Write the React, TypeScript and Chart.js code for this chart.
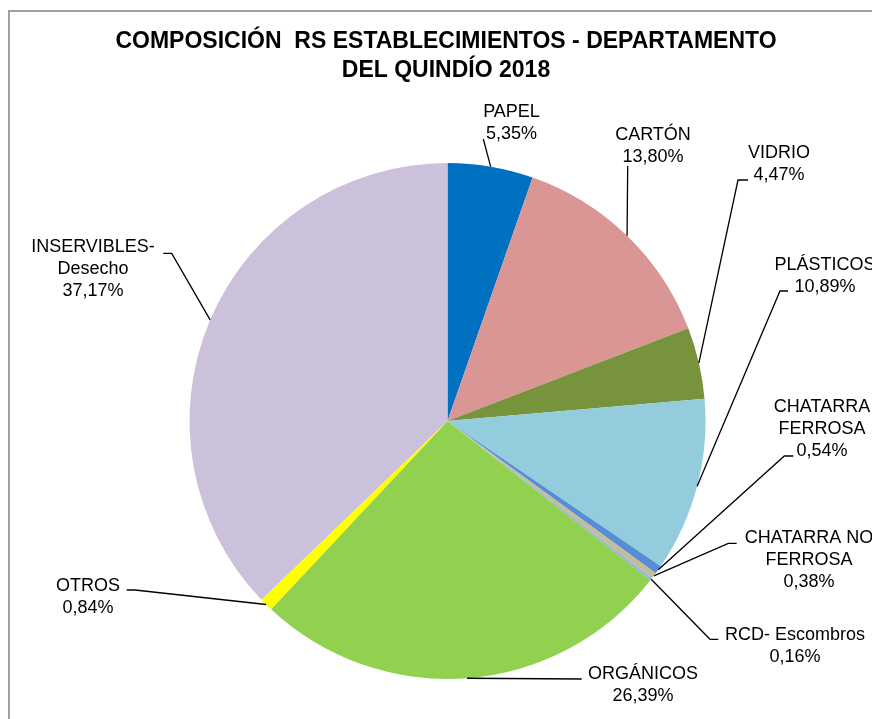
import React, { useEffect, useRef } from "react";
import { Chart, registerables } from "chart.js";

Chart.register(...registerables);

const titleLines = ["COMPOSICIÓN  RS ESTABLECIMIENTOS - DEPARTAMENTO", "DEL QUINDÍO 2018"];

const categories = [
  "PAPEL",
  "CARTÓN",
  "VIDRIO",
  "PLÁSTICOS",
  "CHATARRA FERROSA",
  "CHATARRA NO FERROSA",
  "RCD- Escombros",
  "ORGÁNICOS",
  "OTROS",
  "INSERVIBLES- Desecho",
];

const values = [5.35, 13.8, 4.47, 10.89, 0.54, 0.38, 0.16, 26.39, 0.84, 37.17];

const labelLines = [
  ["PAPEL"],
  ["CARTÓN"],
  ["VIDRIO"],
  ["PLÁSTICOS"],
  ["CHATARRA", "FERROSA"],
  ["CHATARRA NO", "FERROSA"],
  ["RCD- Escombros"],
  ["ORGÁNICOS"],
  ["OTROS"],
  ["INSERVIBLES-", "Desecho"],
];

const colors = [
  "#0070C0",
  "#D99694",
  "#77933C",
  "#93CDDD",
  "#558ED5",
  "#C4BD97",
  "#8EB4E3",
  "#92D050",
  "#FFFF00",
  "#CCC1DA",
];

// label layout: text centre x, first baseline y, elbow point, tail end x (null = none)
const labelLayout = [
  { x: 511.5, y: 117, ex: 483.3, ey: 139, tx: null },
  { x: 653, y: 140, ex: 627.7, ey: 166, tx: null },
  { x: 779, y: 158, ex: 738, ey: 180, tx: 748 },
  { x: 825, y: 270, ex: 780, ey: 291, tx: 788 },
  { x: 822, y: 411.7, ex: 784.3, ey: 456, tx: 793.3 },
  { x: 809, y: 543, ex: 728.3, ey: 543.3, tx: 736.7 },
  { x: 795, y: 640, ex: 710, ey: 639.3, tx: 718.3 },
  { x: 643, y: 679.3, ex: 581.7, ey: 679, tx: null },
  { x: 88, y: 591, ex: 135, ey: 590, tx: 126.7 },
  { x: 93, y: 252.3, ex: 171.7, ey: 253.3, tx: 163.3 },
];

const FONT = '"Liberation Sans", Arial, sans-serif';

const fmt = (v: number) => v.toFixed(2).replace(".", ",") + "%";

const decorPlugin = {
  id: "decor",
  afterDraw(chart: any) {
    const ctx = chart.ctx;
    ctx.save();
    // frame
    ctx.strokeStyle = "#A0A0A0";
    ctx.lineWidth = 2;
    ctx.beginPath();
    ctx.moveTo(9, 730);
    ctx.lineTo(9, 11);
    ctx.lineTo(880, 11);
    ctx.stroke();

    // title
    ctx.fillStyle = "#000";
    ctx.textAlign = "center";
    ctx.textBaseline = "alphabetic";
    ctx.font = `bold 23px ${FONT}`;
    ctx.fillText(titleLines[0], 446, 48);
    ctx.fillText(titleLines[1], 446, 77);

    // labels + leaders
    const meta = chart.getDatasetMeta(0);
    ctx.font = `18px ${FONT}`;
    ctx.strokeStyle = "#000";
    ctx.lineWidth = 1.3;
    meta.data.forEach((arc: any, i: number) => {
      const p = arc.getProps(["x", "y", "startAngle", "endAngle", "outerRadius"], true);
      const mid = (p.startAngle + p.endAngle) / 2;
      const ax = p.x + Math.cos(mid) * p.outerRadius;
      const ay = p.y + Math.sin(mid) * p.outerRadius;
      const L = labelLayout[i];
      ctx.beginPath();
      ctx.moveTo(ax, ay);
      ctx.lineTo(L.ex, L.ey);
      if (L.tx !== null) ctx.lineTo(L.tx, L.ey);
      ctx.stroke();
      const lines = [...labelLines[i], fmt(values[i])];
      lines.forEach((t, k) => ctx.fillText(t, L.x, L.y + k * 22));
    });
    ctx.restore();
  },
};

export default function App() {
  const ref = useRef<HTMLCanvasElement>(null);
  useEffect(() => {
    if (!ref.current) return;
    const chart = new Chart(ref.current, {
      type: "pie",
      data: {
        labels: categories,
        datasets: [
          {
            data: values,
            backgroundColor: colors,
            borderWidth: 0,
          },
        ],
      },
      options: {
        animation: false,
        responsive: false,
        maintainAspectRatio: false,
        devicePixelRatio: 1,
        layout: { padding: { left: 189.5, right: 166.5, top: 163, bottom: 40 } },
        plugins: {
          legend: { display: false },
          tooltip: { enabled: false },
          title: { display: false },
        },
      },
      plugins: [decorPlugin],
    });
    return () => chart.destroy();
  }, []);
  return (
    <div style={{ position: "fixed", left: 0, top: 0, width: 872, height: 719, background: "#fff" }}>
      <canvas ref={ref} width={872} height={719} style={{ display: "block", width: 872, height: 719 }} />
    </div>
  );
}
